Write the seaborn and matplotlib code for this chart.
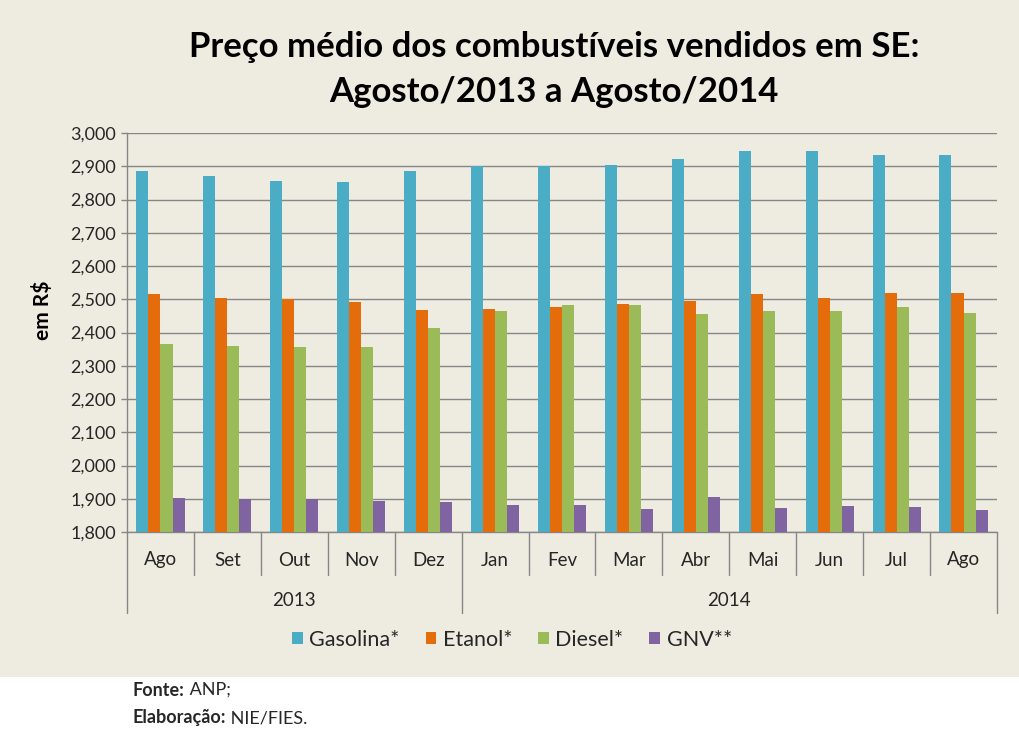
import matplotlib
matplotlib.use("Agg")
import matplotlib.pyplot as plt
import matplotlib.transforms as mtransforms
from matplotlib.patches import Rectangle, Patch
import seaborn as sns
import pandas as pd

months = ["Ago", "Set", "Out", "Nov", "Dez", "Jan", "Fev", "Mar", "Abr", "Mai", "Jun", "Jul", "Ago"]
years = ["2013"] * 5 + ["2014"] * 8
series_names = ["Gasolina*", "Etanol*", "Diesel*", "GNV**"]
gasolina = [2.886, 2.871, 2.856, 2.853, 2.886, 2.901, 2.901, 2.904, 2.922, 2.946, 2.946, 2.934, 2.934]
etanol = [2.516, 2.504, 2.501, 2.492, 2.468, 2.471, 2.477, 2.486, 2.495, 2.516, 2.504, 2.519, 2.519]
diesel = [2.365, 2.359, 2.356, 2.356, 2.414, 2.465, 2.483, 2.483, 2.456, 2.465, 2.465, 2.477, 2.459]
gnv = [1.902, 1.899, 1.899, 1.893, 1.890, 1.881, 1.881, 1.869, 1.905, 1.872, 1.878, 1.875, 1.866]
yticks = [1.8, 1.9, 2.0, 2.1, 2.2, 2.3, 2.4, 2.5, 2.6, 2.7, 2.8, 2.9, 3.0]
colors = ["#4BACC6", "#E46C0A", "#9BBB59", "#8064A2"]

sns.set_theme(style="white")
plt.rcParams['font.family'] = ['Lato', 'DejaVu Sans']

keys = [f"{m} {y}" for m, y in zip(months, years)]
rows = []
for name, vals in zip(series_names, [gasolina, etanol, diesel, gnv]):
    for k, v in zip(keys, vals):
        rows.append({"mes": k, "comb": name, "valor": v})
df = pd.DataFrame(rows)

W, H = 1019, 744
fig = plt.figure(figsize=(W / 100, H / 100), dpi=100)
fig.patch.set_facecolor("white")
fig.patches.append(Rectangle((0, (H - 677) / H), 1, 677 / H, transform=fig.transFigure,
                             facecolor="#EEECE1", edgecolor="none", zorder=-10))

ax = fig.add_axes([127 / W, (H - 532) / H, 870 / W, 399 / H])
ax.set_facecolor("none")
sns.barplot(data=df, x="mes", y="valor", hue="comb", order=keys, hue_order=series_names,
            palette=colors, width=0.72, gap=0, saturation=1, ax=ax, legend=False, zorder=3,
            linewidth=0, edgecolor="none")
ax.set_ylim(1.8, 3.0)
ax.set_xlim(-0.5, len(keys) - 0.5)
ax.set_yticks(yticks)
ax.set_yticklabels([f"{v:.3f}".replace(".", ",") for v in yticks], fontsize=13, color="#262626")
ax.yaxis.grid(True, color="#868686", linewidth=1.0, zorder=0)
ax.set_axisbelow(True)
ax.tick_params(axis="y", which="major", direction="out", length=4, width=1, color="#868686", pad=4, left=True)
ax.set_xticks([])
ax.set_xlabel("")
ax.set_ylabel("")
for s in ["top", "right"]:
    ax.spines[s].set_visible(False)
for s in ["left", "bottom"]:
    ax.spines[s].set_color("#868686")
    ax.spines[s].set_linewidth(1.0)

trans = mtransforms.blended_transform_factory(ax.transData, ax.transAxes)
y_month = (532 - 560) / 399
y_year = (532 - 600) / 399
y_sep1 = (532 - 575) / 399
y_sep2 = (532 - 613) / 399
for i, m in enumerate(months):
    ax.text(i, y_month, m, transform=trans, ha="center", va="center", fontsize=13.5, color="#262626")
for i in range(len(months) + 1):
    bottom = y_sep2 if i in (0, 5, len(months)) else y_sep1
    ax.plot([i - 0.5, i - 0.5], [0, bottom], transform=trans, color="#868686", linewidth=1.0,
            clip_on=False)
year_groups = {}
for i, y in enumerate(years):
    year_groups.setdefault(y, []).append(i)
for y, idx in year_groups.items():
    ax.text((idx[0] + idx[-1]) / 2, y_year, y, transform=trans, ha="center", va="center",
            fontsize=13.5, color="#262626")

fig.text(554 / W, 1 - 47 / H, "Preço médio dos combustíveis vendidos em SE:", ha="center", va="center",
         fontsize=25, fontweight="bold", color="black")
fig.text(554 / W, 1 - 92 / H, "Agosto/2013 a Agosto/2014", ha="center", va="center",
         fontsize=25, fontweight="bold", color="black")
fig.text(42 / W, 1 - 310 / H, "em R\\$", rotation=90, ha="center", va="center", fontsize=15,
         fontweight="bold", color="black")

handles = [Patch(facecolor=c, edgecolor="none", label=n) for c, n in zip(colors, series_names)]
fig.legend(handles=handles, loc="center", bbox_to_anchor=(512 / W, 1 - 640 / H), ncol=4,
           frameon=False, fontsize=15.5, handlelength=0.5, handleheight=0.5, handletextpad=0.3,
           columnspacing=1.2)

t1 = fig.text(133 / W, 1 - 690 / H, "Fonte:", ha="left", va="center", fontsize=13, fontweight="bold")
t2 = fig.text(133 / W, 1 - 718 / H, "Elaboração:", ha="left", va="center", fontsize=13, fontweight="bold")
fig.canvas.draw()
r = fig.canvas.get_renderer()
for t, rest in [(t1, " ANP;"), (t2, " NIE/FIES.")]:
    bb = t.get_window_extent(r)
    fig.text(bb.x1 / W, t.get_position()[1], rest, ha="left", va="center", fontsize=13)

fig.savefig("out.png", dpi=100, facecolor=fig.get_facecolor())
